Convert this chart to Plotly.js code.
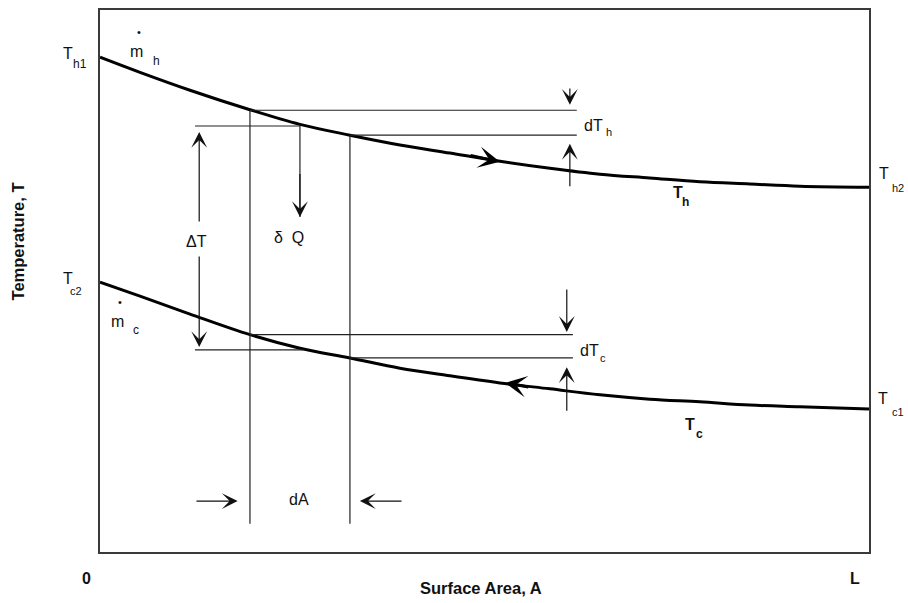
<!DOCTYPE html>
<html>
<head>
<meta charset="utf-8">
<script src="https://cdn.plot.ly/plotly-3.0.1.min.js"></script>
<style>html,body{margin:0;padding:0;background:#fff;}#chart{width:908px;height:603px;}</style>
</head>
<body>
<div id="chart"></div>
<script>
// Surface area position (percent of L) and temperatures (arbitrary units)
const areaPct = [0, 5.2, 11.7, 19.5, 26, 32.5, 39, 45.5, 52, 58.5, 65, 71.5, 78, 84.5, 91, 100];
const hotT   = [91.3, 88.5, 85.2, 81.6, 78.9, 76.9, 75.1, 73.6, 72.1, 70.8, 69.7, 69.0, 68.3, 67.9, 67.5, 67.3];
const coldT  = [49.8, 47.2, 43.9, 40.1, 37.6, 35.8, 33.9, 32.5, 31.2, 30.1, 29.0, 28.2, 27.7, 27.1, 26.8, 26.4];

// element dA edges (x) and bottom end of edge lines
const elemX = [19.5, 32.5];
const elemBottom = 5.2;

// horizontal guide lines: [x0, x1, y]
const guideH = [
  [19.5, 62.0, 81.5],
  [32.5, 62.0, 76.9],
  [12.35, 26.0, 78.6],
  [19.5, 61.5, 40.1],
  [32.5, 61.5, 35.8],
  [12.35, 26.4, 37.3]
];
// vertical guide lines: [x, yTop, yBottom]
const guideV = [
  [elemX[0], 81.5, elemBottom],
  [elemX[1], 76.9, elemBottom],
  [26.0, 78.6, 61.8]
];

// small arrows: [tipX, tipY, tailX, tailY]
const smallArrows = [
  [26.0, 61.8, 26.0, 70.0],   // delta Q
  [12.9, 77.5, 12.9, 60.7],   // Delta T up
  [12.9, 37.8, 12.9, 54.8],   // Delta T down
  [61.1, 82.5, 61.1, 85.8],   // dTh down
  [61.1, 75.3, 61.1, 67.2],   // dTh up
  [60.7, 40.6, 60.7, 48.7],   // dTc down
  [60.7, 34.1, 60.7, 25.8],   // dTc up
  [17.9, 9.4, 12.35, 9.4],    // dA right
  [33.8, 9.4, 39.4, 9.4]      // dA left
];
// flow direction arrows on curves: [tipX, tipY, tailX, tailY]
const flowArrows = [
  [52.0, 72.0, 48.0, 73.2],
  [52.7, 31.2, 55.9, 30.4]
];

// text labels: [text, x, y, size, bold]  (x, y in percent of plot area)
const labels = [
  ['T', -4.2, 91.9, 16, false], ['h1', -2.6, 90.0, 12, false],
  ['m', 4.81, 92.4, 16, false], ['h', 7.41, 90.6, 12, false], ['•', 5.07, 95.9, 11, false],
  ['T', -4.2, 50.4, 16, false], ['c2', -3.1, 48.2, 11, false],
  ['m', 2.3, 42.6, 16, false], ['c', 4.7, 41.0, 12, false], ['•', 2.6, 46.1, 11, false],
  ['T', 101.9, 69.9, 16, false], ['h2', 103.8, 67.2, 11, false],
  ['T', 101.8, 28.4, 16, false], ['c1', 103.8, 25.8, 11, false],
  ['dT', 64.2, 78.6, 16, false], ['h', 66.2, 77.5, 11, false],
  ['dT', 63.6, 37.1, 16, false], ['c', 65.4, 35.8, 11, false],
  ['T', 75.2, 66.4, 16, true], ['h', 76.1, 64.6, 12, true],
  ['T', 76.7, 23.6, 16, true], ['c', 77.9, 21.8, 12, true],
  ['ΔT', 12.6, 57.2, 16, false],
  ['δ  Q', 24.6, 58.0, 16, false],
  ['dA', 25.9, 9.6, 16, false],
  ['0', -1.82, -4.98, 16, true],
  ['L', 98.2, -4.8, 16, true],
  ['Surface Area, A', 49.54, -6.64, 16.5, true]
];
const yTitle = ['Temperature, T', -10.66, 57.3, 16.5];

const FONT = 'Liberation Sans, Arial, Helvetica, sans-serif';
const ink = '#111';

const traces = [
  {x: areaPct, y: hotT, mode: 'lines', line: {color: '#000', width: 3, shape: 'spline', smoothing: 1}, hoverinfo: 'skip', showlegend: false},
  {x: areaPct, y: coldT, mode: 'lines', line: {color: '#000', width: 3, shape: 'spline', smoothing: 1}, hoverinfo: 'skip', showlegend: false}
];

const shapes = [];
guideH.forEach(g => shapes.push({type: 'line', xref: 'x', yref: 'y', x0: g[0], x1: g[1], y0: g[2], y1: g[2], line: {color: '#222', width: 1.2}}));
guideV.forEach(g => shapes.push({type: 'line', xref: 'x', yref: 'y', x0: g[0], x1: g[0], y0: g[1], y1: g[2], line: {color: '#222', width: 1.2}}));

const annotations = [];
smallArrows.forEach(a => annotations.push({
  x: a[0], y: a[1], ax: a[2], ay: a[3], xref: 'x', yref: 'y', axref: 'x', ayref: 'y',
  text: '', showarrow: true, arrowhead: 3, arrowsize: 2.2, arrowwidth: 1.2, arrowcolor: '#111', standoff: 0
}));
flowArrows.forEach(a => annotations.push({
  x: a[0], y: a[1], ax: a[2], ay: a[3], xref: 'x', yref: 'y', axref: 'x', ayref: 'y',
  text: '', showarrow: true, arrowhead: 3, arrowsize: 1.2, arrowwidth: 3, arrowcolor: '#000', standoff: 0
}));
labels.forEach(l => annotations.push({
  x: l[1] / 100, y: l[2] / 100, xref: 'paper', yref: 'paper', showarrow: false,
  text: l[4] ? '<b>' + l[0] + '</b>' : l[0],
  font: {family: FONT, size: l[3], color: ink}, xanchor: 'center', yanchor: 'middle'
}));
annotations.push({
  x: yTitle[1] / 100, y: yTitle[2] / 100, xref: 'paper', yref: 'paper', showarrow: false, textangle: -90,
  text: '<b>' + yTitle[0] + '</b>', font: {family: FONT, size: yTitle[3], color: ink},
  xanchor: 'center', yanchor: 'middle'
});

const axisCommon = {range: [0, 100], showline: true, mirror: true, linecolor: '#3a3a3a', linewidth: 2,
  showgrid: false, zeroline: false, showticklabels: false, ticks: '', fixedrange: true};

const layout = {
  width: 908, height: 603,
  margin: {l: 100, r: 39, t: 10, b: 51, pad: 0},
  paper_bgcolor: '#fff', plot_bgcolor: '#fff',
  xaxis: Object.assign({}, axisCommon),
  yaxis: Object.assign({}, axisCommon),
  shapes: shapes,
  annotations: annotations,
  font: {family: FONT, color: ink},
  showlegend: false
};

Plotly.newPlot('chart', traces, layout, {displayModeBar: false, staticPlot: true});
</script>
</body>
</html>
